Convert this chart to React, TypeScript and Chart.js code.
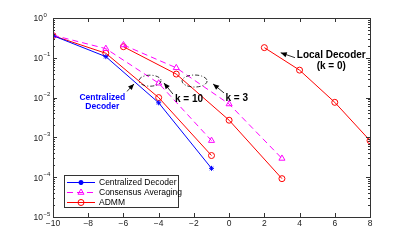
import { useEffect, useRef } from 'react';
import { Chart, registerables } from 'chart.js';

Chart.register(...registerables);

const FONT = '"Liberation Sans", Arial, Helvetica, sans-serif';

// SNR (x) values and error rates (y)
const snrK10 = [-10, -7, -4, -1];
const snrK3 = [-6, -3, 0, 3];
const snrLocal = [2, 4, 6, 8];
const berCentral = [0.36, 0.107, 0.0074, 1.67e-4];
const berConsK10 = [0.37, 0.17, 0.023, 8.3e-4];
const berAdmmK10 = [0.36, 0.13, 0.010, 3.5e-4];
const berConsK3 = [0.21, 0.056, 0.0069, 2.96e-4];
const berAdmmK3 = [0.19, 0.039, 0.0027, 9.2e-5];
const berLocal = [0.18, 0.049, 0.0076, 8.3e-4];

const xTicks = [-10, -8, -6, -4, -2, 0, 2, 4, 6, 8];
const yDecades = [-5, -4, -3, -2, -1, 0];

const legendLabels = ['Centralized Decoder', 'Consensus Averaging', 'ADMM'];

// annotations in data coordinates
const annoTexts = [
  { lines: ['Centralized', 'Decoder'], x: -7.2, y: 0.0076, color: '#0000ff', size: 8.5, gap: 9.3, bg: true },
  { lines: ['k = 10'], x: -2.28, y: 0.0092, color: '#000000', size: 10, gap: 0, bg: false },
  { lines: ['k = 3'], x: 0.43, y: 0.0098, color: '#000000', size: 10, gap: 0, bg: false },
  { lines: ['Local Decoder', '(k = 0)'], x: 5.8, y: 0.0838, color: '#000000', size: 10, gap: 10.3, bg: false },
];
const annoArrows = [
  { fx: -5.815, fy: 0.01407, tx: -5.4, ty: 0.022 },
  { fx: -3.19, fy: 0.0123, tx: -3.7, ty: 0.0233 },
  { fx: -0.29, fy: 0.0131, tx: -0.91, ty: 0.022 },
  { fx: 3.74, fy: 0.1007, tx: 2.93, ty: 0.134 },
];
const annoEllipses = [
  { x: -4.49, y: 0.0266, w: 22, h: 11 },
  { x: -1.96, y: 0.0261, w: 25, h: 12 },
];

const BLUE = '#0000ff';
const RED = '#ff0000';
const MAG = '#ff00ff';

const pts = (xs: number[], ys: number[]) => xs.map((x, i) => ({ x, y: ys[i] }));

function drawMarker(ctx: CanvasRenderingContext2D, style: string, x: number, y: number, r: number, color: string) {
  ctx.save();
  ctx.strokeStyle = color;
  ctx.fillStyle = color;
  ctx.lineWidth = 1;
  ctx.setLineDash([]);
  ctx.beginPath();
  if (style === 'circle') {
    ctx.arc(x, y, r, 0, Math.PI * 2);
    ctx.stroke();
  } else if (style === 'triangle') {
    ctx.moveTo(x, y - r);
    ctx.lineTo(x + r * 0.87, y + r * 0.5);
    ctx.lineTo(x - r * 0.87, y + r * 0.5);
    ctx.closePath();
    ctx.stroke();
  } else {
    for (let a = 0; a < 4; a++) {
      const ang = (a * Math.PI) / 4;
      ctx.moveTo(x - Math.cos(ang) * r, y - Math.sin(ang) * r);
      ctx.lineTo(x + Math.cos(ang) * r, y + Math.sin(ang) * r);
    }
    ctx.lineWidth = 1.5;
    ctx.stroke();
  }
  ctx.restore();
}

const axesPlugin = {
  id: 'matlabAxes',
  afterDatasetsDraw(chart: any) {
    const ctx: CanvasRenderingContext2D = chart.ctx;
    const { left, right, top, bottom } = chart.chartArea;
    const xs = chart.scales.x;
    const ys = chart.scales.y;
    ctx.save();
    ctx.strokeStyle = '#333333';
    ctx.lineWidth = 1;
    ctx.setLineDash([]);
    // box
    ctx.strokeRect(Math.round(left) + 0.5, Math.round(top) + 0.5, Math.round(right - left), Math.round(bottom - top));
    // x ticks
    ctx.beginPath();
    xTicks.forEach((v) => {
      const px = Math.round(xs.getPixelForValue(v)) + 0.5;
      ctx.moveTo(px, bottom);
      ctx.lineTo(px, bottom - 4);
      ctx.moveTo(px, top);
      ctx.lineTo(px, top + 4);
    });
    // y ticks (major + minor)
    yDecades.forEach((e) => {
      const py = Math.round(ys.getPixelForValue(Math.pow(10, e))) + 0.5;
      ctx.moveTo(left, py);
      ctx.lineTo(left + 4, py);
      ctx.moveTo(right, py);
      ctx.lineTo(right - 4, py);
      if (e < 0) {
        for (let m = 2; m <= 9; m++) {
          const pm = Math.round(ys.getPixelForValue(m * Math.pow(10, e))) + 0.5;
          ctx.moveTo(left, pm);
          ctx.lineTo(left + 2, pm);
          ctx.moveTo(right, pm);
          ctx.lineTo(right - 2, pm);
        }
      }
    });
    ctx.stroke();
    // y labels
    ctx.fillStyle = '#222222';
    yDecades.forEach((e) => {
      const py = ys.getPixelForValue(Math.pow(10, e));
      ctx.font = `8.5px ${FONT}`;
      ctx.textAlign = 'right';
      ctx.textBaseline = 'middle';
      ctx.fillText('10', left - 10, py + 1);
      ctx.font = `6px ${FONT}`;
      ctx.textAlign = 'left';
      ctx.fillText(String(e).replace('-', '\u2212'), left - 9.5, py - 3);
    });

    // legend
    const lx = left + 11;
    const ly = bottom - 42;
    const lw = 114;
    const lh = 32;
    ctx.fillStyle = '#ffffff';
    ctx.fillRect(lx, ly, lw, lh);
    ctx.strokeStyle = '#333333';
    ctx.strokeRect(Math.round(lx) + 0.5, Math.round(ly) + 0.5, lw, lh);
    const dsIdx = [0, 1, 2];
    dsIdx.forEach((di, i) => {
      const ds = chart.data.datasets[di];
      const ry = ly + 7 + i * 10 + 0.5;
      ctx.save();
      ctx.strokeStyle = ds.borderColor;
      ctx.lineWidth = ds.borderWidth;
      ctx.setLineDash(ds.borderDash || []);
      ctx.beginPath();
      ctx.moveTo(lx + 3, ry);
      ctx.lineTo(lx + 31, ry);
      ctx.stroke();
      ctx.restore();
      drawMarker(ctx, ds.pointStyle, lx + 17, ry, ds.pointRadius, ds.borderColor);
      ctx.fillStyle = '#000000';
      ctx.font = `8.5px ${FONT}`;
      ctx.textAlign = 'left';
      ctx.textBaseline = 'middle';
      ctx.fillText(legendLabels[i], lx + 35, ry + 0.5);
    });

    // ellipses
    ctx.strokeStyle = '#000000';
    ctx.lineWidth = 0.8;
    ctx.setLineDash([4, 2, 1, 2]);
    annoEllipses.forEach((el) => {
      const cx = xs.getPixelForValue(el.x);
      const cy = ys.getPixelForValue(el.y);
      ctx.beginPath();
      ctx.ellipse(cx, cy, el.w / 2, el.h / 2, 0, 0, Math.PI * 2);
      ctx.stroke();
    });
    ctx.setLineDash([]);

    // arrows
    annoArrows.forEach((a) => {
      const x1 = xs.getPixelForValue(a.fx);
      const y1 = ys.getPixelForValue(a.fy);
      const x2 = xs.getPixelForValue(a.tx);
      const y2 = ys.getPixelForValue(a.ty);
      const ang = Math.atan2(y2 - y1, x2 - x1);
      ctx.strokeStyle = '#000000';
      ctx.lineWidth = 0.8;
      ctx.beginPath();
      ctx.moveTo(x1, y1);
      ctx.lineTo(x2, y2);
      ctx.stroke();
      const hl = 6;
      const hw = 2.6;
      ctx.fillStyle = '#000000';
      ctx.beginPath();
      ctx.moveTo(x2, y2);
      ctx.lineTo(x2 - hl * Math.cos(ang) + hw * Math.sin(ang), y2 - hl * Math.sin(ang) - hw * Math.cos(ang));
      ctx.lineTo(x2 - hl * Math.cos(ang) - hw * Math.sin(ang), y2 - hl * Math.sin(ang) + hw * Math.cos(ang));
      ctx.closePath();
      ctx.fill();
    });

    // texts
    annoTexts.forEach((t) => {
      const cx = xs.getPixelForValue(t.x);
      const cy = ys.getPixelForValue(t.y);
      ctx.font = `bold ${t.size}px ${FONT}`;
      ctx.textAlign = 'center';
      ctx.textBaseline = 'middle';
      const n = t.lines.length;
      if (t.bg) {
        const w = Math.max(...t.lines.map((l) => ctx.measureText(l).width)) + 4;
        const h = (n - 1) * t.gap + t.size + 4;
        ctx.fillStyle = '#ffffff';
        ctx.fillRect(cx - w / 2, cy - h / 2, w, h);
      }
      ctx.fillStyle = t.color;
      t.lines.forEach((l, i) => {
        ctx.fillText(l, cx, cy + (i - (n - 1) / 2) * t.gap);
      });
    });
    ctx.restore();
  },
};

export default function App() {
  const ref = useRef<HTMLCanvasElement>(null);
  useEffect(() => {
    const line = (label: string, xs: number[], ys: number[], color: string, style: string, r: number, dash: number[]) => ({
      label,
      data: pts(xs, ys),
      borderColor: color,
      backgroundColor: 'rgba(0,0,0,0)',
      borderWidth: 1,
      borderDash: dash,
      pointStyle: style,
      pointRadius: r,
      pointHoverRadius: r,
      pointBorderWidth: 1,
      pointBorderColor: color,
      pointBackgroundColor: style === 'star' ? color : 'rgba(0,0,0,0)',
      showLine: true,
      tension: 0,
      fill: false,
    });
    const chart = new Chart(ref.current!, {
      type: 'line',
      data: {
        datasets: [
          line('Centralized Decoder', snrK10, berCentral, BLUE, 'star', 2.5, []),
          line('Consensus Averaging', snrK10, berConsK10, MAG, 'triangle', 3.5, [6, 4]),
          line('ADMM', snrK10, berAdmmK10, RED, 'circle', 3, []),
          line('Consensus Averaging k=3', snrK3, berConsK3, MAG, 'triangle', 3.5, [6, 4]),
          line('ADMM k=3', snrK3, berAdmmK3, RED, 'circle', 3, []),
          line('Local Decoder', snrLocal, berLocal, RED, 'circle', 3, []),
        ] as any,
      },
      options: {
        animation: false,
        responsive: true,
        maintainAspectRatio: false,
        layout: { padding: { top: 18, right: 39, left: 0, bottom: 0 } },
        plugins: { legend: { display: false }, tooltip: { enabled: false } },
        scales: {
          x: {
            type: 'linear',
            min: -10,
            max: 8,
            grid: { display: false, drawTicks: false },
            border: { display: false },
            ticks: {
              stepSize: 2,
              padding: 2,
              color: '#222222',
              font: { size: 8.5, family: FONT },
              callback: (v: any) => String(v).replace('-', '\u2212'),
              maxRotation: 0,
              autoSkip: false,
            },
            afterFit: (s: any) => {
              s.height = 28;
            },
          },
          y: {
            type: 'logarithmic',
            min: 1e-5,
            max: 1,
            grid: { display: false, drawTicks: false },
            border: { display: false },
            ticks: { display: false },
            afterFit: (s: any) => {
              s.width = 53;
            },
          },
        },
      },
      plugins: [axesPlugin],
    });
    return () => chart.destroy();
  }, []);
  return (
    <div style={{ position: 'fixed', left: 0, top: 0, width: 409, height: 245, background: '#ffffff' }}>
      <canvas ref={ref} />
    </div>
  );
}
